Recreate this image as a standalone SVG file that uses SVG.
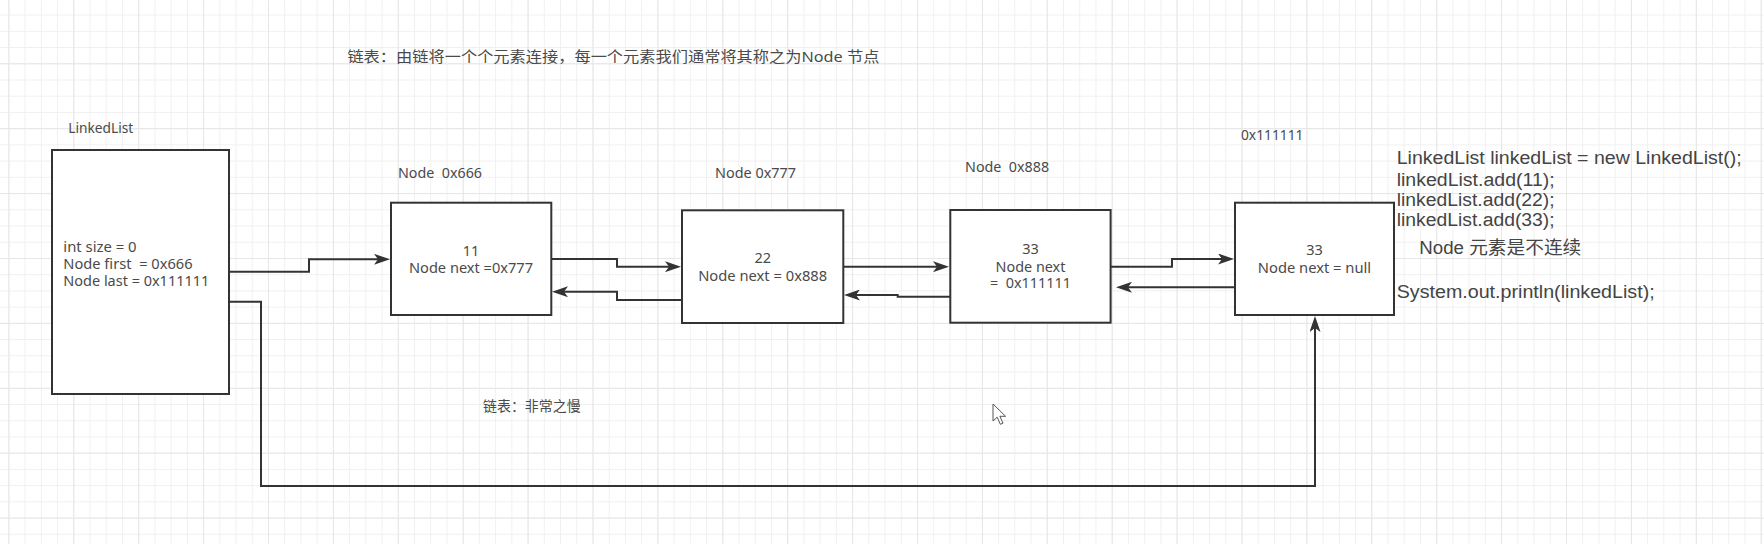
<svg xmlns="http://www.w3.org/2000/svg" width="1764" height="544" viewBox="0 0 1764 544">
<style>
.box{fill:#fff;stroke:#333;stroke-width:2}
.con{fill:none;stroke:#333;stroke-width:2;marker-end:url(#arr)}
text{font-family:"Noto Sans","Noto Sans CJK SC",sans-serif;fill:#4a4a4a}
.lbl{font-size:14px}
.in{font-size:14.5px;text-anchor:middle}
.code{font-family:"Liberation Sans","Noto Sans CJK SC",sans-serif;font-size:18px;fill:#444}
</style>
<defs>
<pattern id="minor" width="16.225" height="16.225" patternUnits="userSpaceOnUse" x="8.4" y="14.6">
<path d="M0.5 0V16.225M0 0.5H16.225" stroke="#f0f0f0" stroke-width="1" fill="none"/>
</pattern>
<pattern id="major" width="64.9" height="64.9" patternUnits="userSpaceOnUse" x="8.4" y="-1.6">
<path d="M0.5 0V64.9M0 0.5H64.9" stroke="#e6e6e6" stroke-width="1" fill="none"/>
</pattern>
<marker id="arr" viewBox="0 0 16 11" refX="8" refY="5.5" markerWidth="16" markerHeight="11" markerUnits="userSpaceOnUse" orient="auto">
<path d="M0,0 L16,5.5 L0,11 L4,5.5 Z" fill="#333"/>
</marker>
</defs>
<rect width="1764" height="544" fill="#fff"/>
<rect width="1764" height="544" fill="url(#minor)"/>
<rect width="1764" height="544" fill="url(#major)"/>

<text x="347.4" y="61.7" font-size="15" textLength="532" lengthAdjust="spacingAndGlyphs">链表：由链将一个个元素连接，每一个元素我们通常将其称之为Node 节点</text>

<g id="connectors">
<path class="con" d="M229,271.7 H309 V259.3 H382"/>
<path class="con" d="M229,301.7 H261 V486 H1315 V324"/>
<path class="con" d="M551.3,259 H617 V266.7 H673"/>
<path class="con" d="M682,300 H617 V291.7 H560"/>
<path class="con" d="M843.3,266.7 H941"/>
<path class="con" d="M950.3,296.7 H897.7 V295 H852"/>
<path class="con" d="M1110.6,266.7 H1172 V259 H1226"/>
<path class="con" d="M1235,287.3 H1124"/>
</g>

<g id="linkedlist">
<text class="lbl" x="68.3" y="133.3" textLength="65" lengthAdjust="spacingAndGlyphs">LinkedList</text>
<rect class="box" x="52" y="150" width="177" height="244"/>
<text x="63.3" y="251.7" font-size="15" textLength="73.3" lengthAdjust="spacingAndGlyphs">int size = 0</text>
<text x="63.3" y="269" font-size="15" textLength="129.3" lengthAdjust="spacingAndGlyphs" xml:space="preserve">Node first  = 0x666</text>
<text x="63.3" y="286.3" font-size="15" textLength="146" lengthAdjust="spacingAndGlyphs">Node last = 0x111111</text>
</g>

<g id="node1">
<text class="lbl" x="398" y="178.3" textLength="84" lengthAdjust="spacingAndGlyphs" xml:space="preserve">Node  0x666</text>
<rect class="box" x="391" y="202.7" width="160.3" height="112.3"/>
<text class="in" x="471" y="255.7">11</text>
<text class="in" x="471" y="273.3" textLength="124" lengthAdjust="spacingAndGlyphs">Node next =0x777</text>
</g>

<g id="node2">
<text class="lbl" x="715" y="178.3" textLength="81" lengthAdjust="spacingAndGlyphs">Node 0x777</text>
<rect class="box" x="682" y="210.3" width="161.3" height="112.7"/>
<text class="in" x="762.7" y="263.3">22</text>
<text class="in" x="762.7" y="280.7" textLength="129" lengthAdjust="spacingAndGlyphs">Node next = 0x888</text>
</g>

<g id="node3">
<text class="lbl" x="965" y="171.7" textLength="84.2" lengthAdjust="spacingAndGlyphs" xml:space="preserve">Node  0x888</text>
<rect class="box" x="950.3" y="210" width="160.3" height="112.7"/>
<text class="in" x="1030.5" y="254.3">33</text>
<text class="in" x="1030.5" y="271.7" textLength="69.8" lengthAdjust="spacingAndGlyphs">Node next</text>
<text class="in" x="1030.5" y="288.3" textLength="81" lengthAdjust="spacingAndGlyphs" xml:space="preserve">=  0x111111</text>
</g>

<g id="node4">
<text class="lbl" x="1241" y="140" textLength="62.4" lengthAdjust="spacingAndGlyphs">0x111111</text>
<rect class="box" x="1235" y="202.7" width="159" height="112.3"/>
<text class="in" x="1314.5" y="255">33</text>
<text class="in" x="1314.5" y="272.7" textLength="113.3" lengthAdjust="spacingAndGlyphs">Node next = null</text>
</g>

<g id="code">
<text class="code" x="1396.7" y="164.3" textLength="345" lengthAdjust="spacingAndGlyphs">LinkedList linkedList = new LinkedList();</text>
<text class="code" x="1396.7" y="185.5" textLength="158" lengthAdjust="spacingAndGlyphs">linkedList.add(11);</text>
<text class="code" x="1396.7" y="206" textLength="158" lengthAdjust="spacingAndGlyphs">linkedList.add(22);</text>
<text class="code" x="1396.7" y="226.3" textLength="158" lengthAdjust="spacingAndGlyphs">linkedList.add(33);</text>
<text class="code" x="1419.3" y="253.5" textLength="162" lengthAdjust="spacingAndGlyphs">Node 元素是不连续</text>
<text class="code" x="1396.7" y="297.5" textLength="258" lengthAdjust="spacingAndGlyphs">System.out.println(linkedList);</text>
</g>

<text x="483" y="410.7" font-size="14" textLength="97.6" lengthAdjust="spacingAndGlyphs">链表：非常之慢</text>

<path d="M993,404 L993,421 L997.2,417.2 L1000.4,424.3 L1003,423.2 L999.9,416.3 L1005.6,416.3 Z" fill="#fff" stroke="#555" stroke-width="1" stroke-linejoin="round"/>
</svg>
